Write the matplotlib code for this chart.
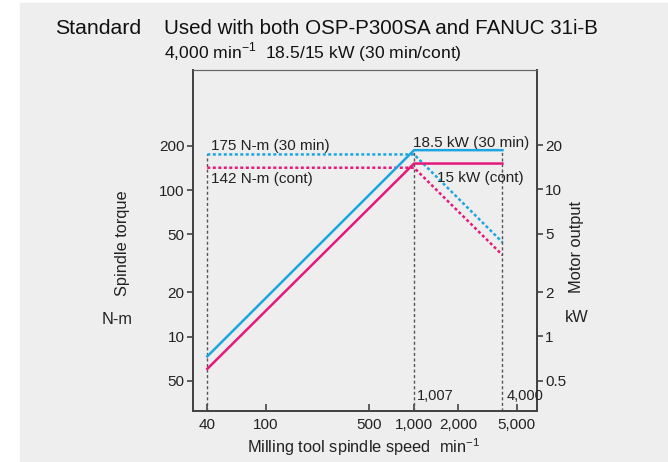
import matplotlib
matplotlib.use("Agg")
import matplotlib.pyplot as plt
from matplotlib.patches import Rectangle

plt.rcParams['font.family'] = ['Liberation Sans', 'DejaVu Sans']
plt.rcParams['mathtext.fontset'] = 'custom'
plt.rcParams['mathtext.rm'] = 'Liberation Sans'

# values
speed = [40, 1007, 4000]
power_30min = [0.73, 18.5, 18.5]    # kW, right axis
power_cont = [0.6, 15, 15]
torque_30min = [175, 175, 44]       # N-m, left axis
torque_cont = [142, 142, 36]

x_ticks = [40, 100, 500, 1000, 2000, 5000]
x_labels = ['40', '100', '500', '1,000', '2,000', '5,000']
torque_ticks = [5, 10, 20, 50, 100, 200]
torque_labels = ['50', '10', '20', '50', '100', '200']   # bottom one is printed "50" in the original
power_ticks = [0.5, 1, 2, 5, 10, 20]
power_labels = ['0.5', '1', '2', '5', '10', '20']

BLUE = '#1ba6e0'
PINK = '#e5197b'
GREY = '#444444'
BG = '#eeeeee'
TXT = '#222222'
W, H = 668, 462


def px(x, y):
    return x / W, 1 - y / H


fig = plt.figure(figsize=(W / 100, H / 100), dpi=100, facecolor='white')
fig.patches.append(Rectangle((20 / W, 0), 1, (H - 3) / H, transform=fig.transFigure,
                             color=BG, zorder=-10))

l, t = px(193, 70)
r, b = px(536.7, 411)
ax = fig.add_axes([l, b, r - l, t - b])
ax.set_facecolor(BG)
ax2 = ax.twinx()

for a in (ax, ax2):
    a.set_xscale('log')
    a.set_yscale('log')
    a.set_xlim(32, 6830)
    a.minorticks_off()
    for s in a.spines.values():
        s.set_color(GREY)
        s.set_linewidth(1.4)
    a.spines['top'].set_linewidth(0.8)
    a.spines['top'].set_color('#666666')

ax.set_ylim(3.1, 660)
ax2.set_ylim(0.31, 65)

dots = (0, (1.2, 1.0))
ax.plot(speed, torque_30min, color=BLUE, lw=1.8, linestyle=dots, zorder=3)
ax.plot(speed, torque_cont, color=PINK, lw=1.8, linestyle=dots, zorder=3)
ax2.plot(speed, power_30min, color=BLUE, lw=1.8, zorder=4)
ax2.plot(speed, power_cont, color=PINK, lw=1.8, zorder=4)

vdash = (0, (2.2, 1.8))
ax.vlines(speed[0], 3.1, torque_30min[0], color='#555555', lw=1.0, linestyle=vdash, zorder=2)
ax2.vlines(speed[1:], 0.31, power_30min[1:], color='#555555', lw=1.0, linestyle=vdash, zorder=2)

ax.set_xticks(x_ticks, x_labels)
ax.set_yticks(torque_ticks, torque_labels)
ax2.set_yticks(power_ticks, power_labels)
ax.tick_params(axis='x', direction='in', length=5, width=1.2, color=GREY,
               labelsize=11, pad=5, labelcolor=TXT)
ax.tick_params(axis='y', direction='out', length=4, width=1.2, color=GREY,
               labelsize=11, pad=2, labelcolor=TXT)
ax2.tick_params(axis='y', direction='out', length=4, width=1.2, color=GREY,
                labelsize=11, pad=2, labelcolor=TXT)
ax2.tick_params(axis='x', length=0)

fs = 11
ax.annotate('175 N-m (30 min)', xy=(speed[0], torque_30min[0]), xytext=(4, 8),
            textcoords='offset pixels', va='center', ha='left', fontsize=fs, color=TXT)
ax.annotate('142 N-m (cont)', xy=(speed[0], torque_cont[0]), xytext=(4, -11),
            textcoords='offset pixels', va='center', ha='left', fontsize=fs, color=TXT)
ax2.annotate('18.5 kW (30 min)', xy=(speed[1], power_30min[1]), xytext=(-1, 7),
             textcoords='offset pixels', va='center', ha='left', fontsize=fs, color=TXT)
ax2.annotate('15 kW (cont)', xy=(speed[1], power_cont[1]), xytext=(23, -14),
             textcoords='offset pixels', va='center', ha='left', fontsize=fs, color=TXT)
ax2.annotate('1,007', xy=(speed[1], 0.31), xytext=(3, 15),
             textcoords='offset pixels', va='center', ha='left', fontsize=10.5, color=TXT)
ax2.annotate('4,000', xy=(speed[2], 0.31), xytext=(4, 15),
             textcoords='offset pixels', va='center', ha='left', fontsize=10.5, color=TXT)

fig.text(*px(55, 29), 'Standard', fontsize=15.3, va='center', ha='left', color='#111111')
fig.text(*px(164, 29), 'Used with both OSP-P300SA and FANUC 31i-B', fontsize=14.8,
         va='center', ha='left', color='#111111')
fig.text(*px(164, 52), r'4,000 min$^{\mathregular{-1}}$  18.5/15 kW (30 min/cont)', fontsize=12.6,
         va='center', ha='left', color='#111111')

fig.text(*px(122, 243), 'Spindle torque', rotation=90, fontsize=11.8, va='center', ha='center',
         color=TXT)
fig.text(*px(117, 319), 'N-m', fontsize=11.8, va='center', ha='center', color=TXT)
fig.text(*px(577, 247), 'Motor output', rotation=90, fontsize=11.8, va='center', ha='center',
         color=TXT)
fig.text(*px(577, 318), 'kW', fontsize=11.8, va='center', ha='center', color=TXT)
fig.text(*px(364, 447), r'Milling tool spindle speed  min$^{\mathregular{-1}}$', fontsize=11.8,
         va='center', ha='center', color=TXT)

fig.savefig('out.png', dpi=100, facecolor=fig.get_facecolor())
